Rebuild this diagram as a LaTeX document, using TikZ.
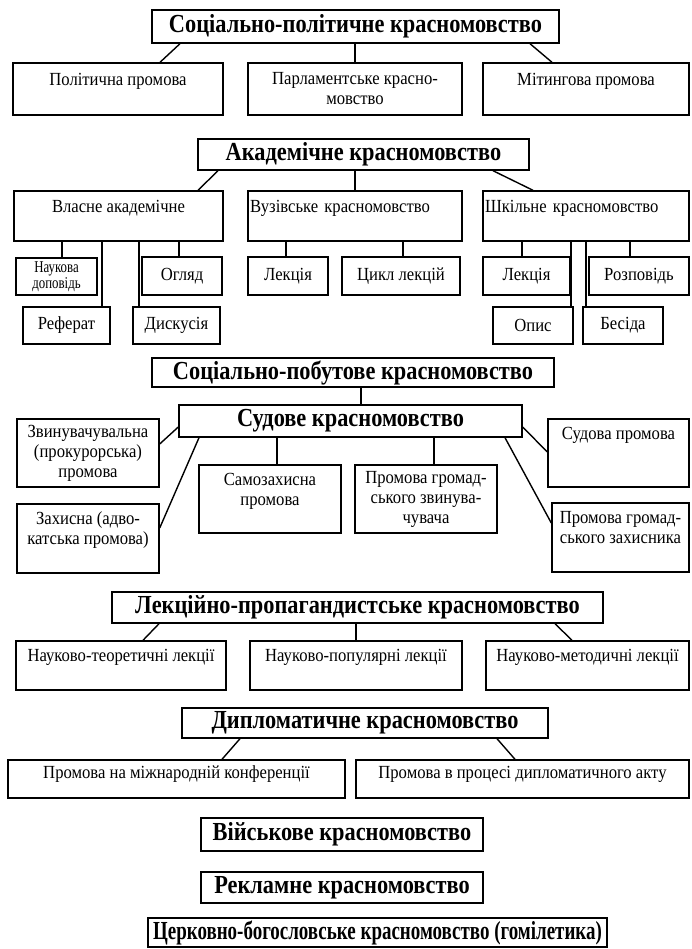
\documentclass[tikz,border=0pt]{standalone}
\usepackage{fontspec}
\setmainfont{Liberation Serif}[FakeStretch=0.9]
\newfontfamily\headfont{Liberation Serif}[FakeStretch=0.86]
\newfontfamily\cerkfont{Liberation Serif}[FakeStretch=0.73]
\newfontfamily\narrowfont{Liberation Serif}[FakeStretch=0.78]
\usetikzlibrary{positioning}

\tikzset{
 box/.style={draw, line width=1.4pt, inner sep=2pt, align=center, font=\fontsize{18.5}{20}\selectfont},
 head/.style={box, font=\headfont\bfseries\fontsize{26}{28}\selectfont},
 link/.style={line width=1.4pt}
}

\begin{document}
\begin{tikzpicture}[x=1pt,y=-1pt]
\useasboundingbox (0,0) rectangle (691,949);

\node[head, minimum width=407, minimum height=33] (sp) at (355.5,26.5) {Соціально-політичне красномовство};
\node[box, minimum width=210, minimum height=52] (pol) at (118,89) {Політична промова\\~};
\node[box, minimum width=214, minimum height=52] (parl) at (355,89) {Парламентське красно-\\мовство};
\node[box, minimum width=206, minimum height=52] (mit) at (586,89) {Мітингова промова\\~};
\draw[link] (sp.south -| 180,0) -- (pol.north -| 160,0);
\draw[link] (parl.north) -- (parl.north |- sp.south);
\draw[link] (sp.south -| 530,0) -- (mit.north -| 552,0);

\node[head, minimum width=331, minimum height=31] (ak) at (363.5,154.5) {Академічне красномовство};
\node[box, minimum width=209, minimum height=50] (vlas) at (118.5,216) {Власне академічне\\~};
\node[box, text width=210, align=left, minimum height=50] (vuz) at (355,216) {Вузівське красномовство\\~};
\node[box, text width=202, align=left, minimum height=50] (shk) at (586,216) {Шкільне красномовство\\~};
\draw[link] (ak.south -| 218,0) -- (vlas.north -| 198,0);
\draw[link] (vuz.north) -- (vuz.north |- ak.south);
\draw[link] (ak.south -| 493,0) -- (shk.north -| 533,0);

\node[box, minimum width=81, minimum height=37, inner sep=1pt, font=\narrowfont\fontsize{16.5}{16.5}\selectfont] (nauk) at (56.5,276.5) {Наукова\\доповідь};
\node[box, minimum width=80, minimum height=38] (ogl) at (182,276) {Огляд};
\node[box, minimum width=87, minimum height=37] (ref) at (66.5,325.5) {Реферат};
\node[box, minimum width=87, minimum height=37] (disk) at (176.5,325.5) {Дискусія};
\node[box, minimum width=80, minimum height=38] (lek1) at (288,276) {Лекція};
\node[box, minimum width=118, minimum height=38] (cykl) at (401,276) {Цикл лекцій};
\node[box, minimum width=87, minimum height=38] (lek2) at (526.5,276) {Лекція};
\node[box, minimum width=100, minimum height=38] (rozp) at (639,276) {Розповідь};
\node[box, minimum width=80, minimum height=37] (opys) at (533,325.5) {Опис};
\node[box, minimum width=80, minimum height=37] (besida) at (623,325.5) {Бесіда};
\foreach \n/\x in {nauk/62, ref/102, disk/139, ogl/179}
  \draw[link] (vlas.south -| \x,0) -- (\n.north -| \x,0);
\foreach \n/\x in {lek1/286, cykl/403}
  \draw[link] (vuz.south -| \x,0) -- (\n.north -| \x,0);
\foreach \n/\x in {lek2/522, opys/571, besida/586, rozp/630}
  \draw[link] (shk.south -| \x,0) -- (\n.north -| \x,0);

\node[head, minimum width=402, minimum height=29] (spb) at (353,372.5) {Соціально-побутове красномовство};
\node[head, minimum width=343, minimum height=32] (sud) at (350.5,421) {Судове красномовство};
\node[box, minimum width=142, minimum height=68] (zvyn) at (88,453) {Звинувачувальна\\(прокурорська)\\промова};
\node[box, minimum width=141, minimum height=68] (sudpr) at (618.5,453) {Судова промова\\~\\~};
\node[box, minimum width=142, minimum height=68] (samoz) at (270,499) {Самозахисна\\промова\\~};
\node[box, minimum width=142, minimum height=68] (gromzv) at (426,499) {Промова громад-\\ського звинува-\\чувача};
\node[box, minimum width=142, minimum height=69] (zakh) at (88,538.5) {Захисна (адво-\\катська промова)\\~};
\node[box, minimum width=137, minimum height=69] (gromzakh) at (620.5,537.5) {Промова громад-\\ського захисника\\~};
\draw[link] (spb.south -| 361,0) -- (sud.north -| 361,0);
\draw[link] (sud.west |- 0,427) -- (zvyn.east |- 0,444);
\draw[link] (sud.south -| 199,0) -- (zakh.east |- 0,528);
\draw[link] (sud.south -| 277,0) -- (samoz.north -| 277,0);
\draw[link] (sud.south -| 434,0) -- (gromzv.north -| 434,0);
\draw[link] (sud.east |- 0,427) -- (sudpr.west |- 0,452);
\draw[link] (sud.south -| 505,0) -- (gromzakh.west |- 0,523);

\node[head, minimum width=491, minimum height=31] (lp) at (357.5,607.5) {Лекційно-пропагандистське красномовство};
\node[box, minimum width=210, minimum height=49] (nt) at (121,665.5) {Науково-теоретичні лекції\\~};
\node[box, minimum width=212, minimum height=49] (np) at (356,665.5) {Науково-популярні лекції\\~};
\node[box, minimum width=203, minimum height=49] (nm) at (587.5,665.5) {Науково-методичні лекції\\~};
\draw[link] (lp.south -| 159,0) -- (nt.north -| 143,0);
\draw[link] (np.north) -- (np.north |- lp.south);
\draw[link] (lp.south -| 555,0) -- (nm.north -| 572,0);

\node[head, minimum width=366, minimum height=30] (dip) at (365,723) {Дипломатичне красномовство};
\node[box, minimum width=337, minimum height=38] (konf) at (176.5,779) {Промова на міжнародній конференції\\[-6pt]~};
\node[box, minimum width=333, minimum height=38] (akt) at (522.5,779) {Промова в процесі дипломатичного акту\\[-6pt]~};
\draw[link] (dip.south -| 240,0) -- (konf.north -| 222,0);
\draw[link] (dip.south -| 497,0) -- (akt.north -| 515,0);

\node[head, minimum width=282, minimum height=33] (viy) at (342,834.5) {Військове красномовство};
\node[head, minimum width=282, minimum height=31] (rekl) at (342,887.5) {Рекламне красномовство};
\node[head, minimum width=459, minimum height=29, font=\cerkfont\bfseries\fontsize{26}{28}\selectfont] (cerk) at (377.5,932.5) {Церковно-богословське красномовство (гомілетика)};
\end{tikzpicture}
\end{document}
